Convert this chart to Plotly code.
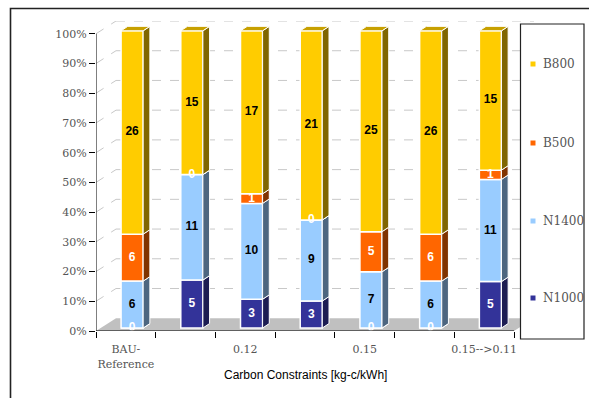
import numpy as np
import plotly.graph_objects as go

# Plant mix per scenario (number of units of each type)
n1000 = [0, 5, 3, 3, 0, 0, 5]
n1400 = [6, 11, 10, 9, 7, 6, 11]
b500 = [6, 0, 1, 0, 5, 6, 1]
b800 = [26, 15, 17, 21, 25, 26, 15]

# Axis labels
tick_pos = [1, 3, 5, 7]
tick_text = ["BAU-<br>Reference", "0.12", "0.15", "0.15-->0.11"]
pct_vals = list(range(0, 101, 10))
pct_text = [f"{v}%" for v in pct_vals]
x_title = "Carbon Constraints [kg-c/kWh]"

# name, values, front colour, side colour, top colour, label colour
series = [
    ("N1000", n1000, "#333399", "#1C1C52", "#262673", "white"),
    ("N1400", n1400, "#99CCFF", "#4D6680", "#7399BF", "black"),
    ("B500", b500, "#FF6600", "#803300", "#BF4C00", "white"),
    ("B800", b800, "#FFCC00", "#806600", "#C7A000", "black"),
]

# geometry of the pseudo-3D look (data units)
W = 0.37      # bar front width
BX, BY = 0.105, 1.0   # bar front offset from the front plane
DX, DY = 0.112, 1.5   # bar depth
WX, WY = 0.335, 4.3   # wall depth

x = np.arange(1, len(b800) + 1, dtype=float)
totals = np.sum([np.array(s[1], dtype=float) for s in series], axis=0)

fig = go.Figure()
cum = np.zeros(len(x))
text_x, text_y, text_s, text_c = [], [], [], []
side_traces = []
for name, vals, front, side, top, tcol in series:
    v = np.array(vals, dtype=float)
    pct = v / totals * 100.0
    base = BY + cum
    xc = x + BX
    fig.add_trace(go.Bar(
        x=xc, y=pct, base=base, width=W, name=name,
        marker=dict(color=front, line=dict(color="white", width=1.5)),
        hoverinfo="skip", showlegend=False,
    ))
    # side faces
    px, py = [], []
    for xi, b0, h in zip(xc, base, pct):
        xr = xi + W / 2
        px += [xr, xr + DX, xr + DX, xr, xr, None]
        py += [b0, b0 + DY, b0 + h + DY, b0 + h, b0, None]
    side_traces.append(go.Scatter(
        x=px, y=py, mode="lines", fill="toself", fillcolor=side,
        line=dict(color="white", width=1), hoverinfo="skip", showlegend=False,
    ))
    if name == "B800":
        tx, ty = [], []
        for xi, b0, h in zip(xc, base, pct):
            xl, xr, yt = xi - W / 2, xi + W / 2, b0 + h
            tx += [xl, xr, xr + DX, xl + DX, xl, None]
            ty += [yt, yt, yt + DY, yt + DY, yt, None]
        side_traces.append(go.Scatter(
            x=tx, y=ty, mode="lines", fill="toself", fillcolor=top,
            line=dict(color="white", width=1), hoverinfo="skip", showlegend=False,
        ))
    for xi, b0, h, val in zip(xc, base, pct, vals):
        text_x.append(xi)
        text_y.append(b0 + h / 2)
        text_s.append(f"<b>{val}</b>")
        text_c.append(tcol)
    cum = cum + pct

for tr in side_traces:
    fig.add_trace(tr)

fig.add_trace(go.Scatter(
    x=text_x, y=text_y, mode="text", text=text_s,
    textfont=dict(family="Liberation Sans, Arial", size=12, color=text_c),
    hoverinfo="skip", showlegend=False,
))

xmin, xmax = 0.5, len(x) + 0.5
shapes = []
# floor
shapes.append(dict(
    type="path", xref="x", yref="y", layer="below",
    path=f"M {xmin} 0 L {xmin + WX} {WY} L {xmax + WX} {WY} L {xmax} 0 Z",
    fillcolor="#C0C0C0", line=dict(width=0),
))
# wall gridlines
for p in pct_vals[1:]:
    shapes.append(dict(type="line", xref="x", yref="y", layer="below",
                       x0=xmin, y0=p, x1=xmin + WX, y1=p + WY,
                       line=dict(color="#C8C8C8", width=1, dash="dash")))
    shapes.append(dict(type="line", xref="x", yref="y", layer="below",
                       x0=xmin + WX, y0=p + WY, x1=xmax + WX, y1=p + WY,
                       line=dict(color="#C8C8C8", width=1, dash="dash")))
# front axis lines
shapes.append(dict(type="line", xref="x", yref="y", x0=xmin, y0=0, x1=xmin, y1=100,
                   line=dict(color="black", width=1)))
shapes.append(dict(type="line", xref="x", yref="y", x0=xmin, y0=0, x1=xmax, y1=0,
                   line=dict(color="black", width=1)))

# pixel -> paper helpers (plot area: x 96..534, y 21..331)
L, R, T, B = 96, 534, 21, 331


def px(v):
    return (v - L) / (R - L)


def py(v):
    return (B - v) / (B - T)


# outer chart frame
shapes.append(dict(type="rect", xref="paper", yref="paper",
                   x0=px(10.5), y0=py(8.5), x1=px(600), y1=py(410),
                   line=dict(color="#222222", width=1.6), fillcolor="rgba(0,0,0,0)"))
# legend frame
shapes.append(dict(type="rect", xref="paper", yref="paper",
                   x0=px(520.5), y0=py(24), x1=px(584), y1=py(339),
                   line=dict(color="#222222", width=1.2), fillcolor="white"))

annotations = []
legend_rows = [("B800", "#FFCC00", 64), ("B500", "#FF6600", 143),
               ("N1400", "#99CCFF", 221), ("N1000", "#333399", 298)]
for name, col, yc in legend_rows:
    shapes.append(dict(type="rect", xref="paper", yref="paper",
                       x0=px(530.5), y0=py(yc + 2.5), x1=px(535.5), y1=py(yc - 2.5),
                       fillcolor=col, line=dict(width=0)))
    annotations.append(dict(xref="paper", yref="paper", x=px(541), y=py(yc),
                            xanchor="left", yanchor="middle", showarrow=False,
                            text=name,
                            font=dict(family="DejaVu Serif", size=12, color="#555555")))

annotations.append(dict(xref="x", yref="paper", x=(xmin + xmax) / 2, y=py(375),
                        xanchor="center", yanchor="middle", showarrow=False,
                        text=x_title,
                        font=dict(family="Liberation Sans, Arial", size=12, color="black")))

fig.update_layout(
    width=589, height=398,
    margin=dict(l=L, r=589 - R, t=T, b=398 - B, pad=0),
    paper_bgcolor="white", plot_bgcolor="white",
    barmode="overlay", showlegend=False,
    shapes=shapes, annotations=annotations,
    xaxis=dict(
        range=[xmin, xmax + WX], tickmode="array", tickvals=tick_pos, ticktext=tick_text,
        ticks="outside", ticklen=8, tickcolor="rgba(0,0,0,0)",
        showgrid=False, zeroline=False, showline=False,
        tickfont=dict(family="DejaVu Serif", size=11, color="#555555"),
        minor=dict(tickmode="array", tickvals=list(np.arange(xmin, xmax + 0.01, 1.0)),
                   ticks="outside", ticklen=6, tickcolor="black", showgrid=False),
    ),
    yaxis=dict(
        range=[0, 100 + WY], tickmode="array", tickvals=pct_vals, ticktext=pct_text,
        ticks="outside", ticklen=6, tickcolor="black",
        showgrid=False, zeroline=False, showline=False,
        tickfont=dict(family="DejaVu Serif", size=11, color="#555555"),
    ),
)

fig.write_html("out.html")
